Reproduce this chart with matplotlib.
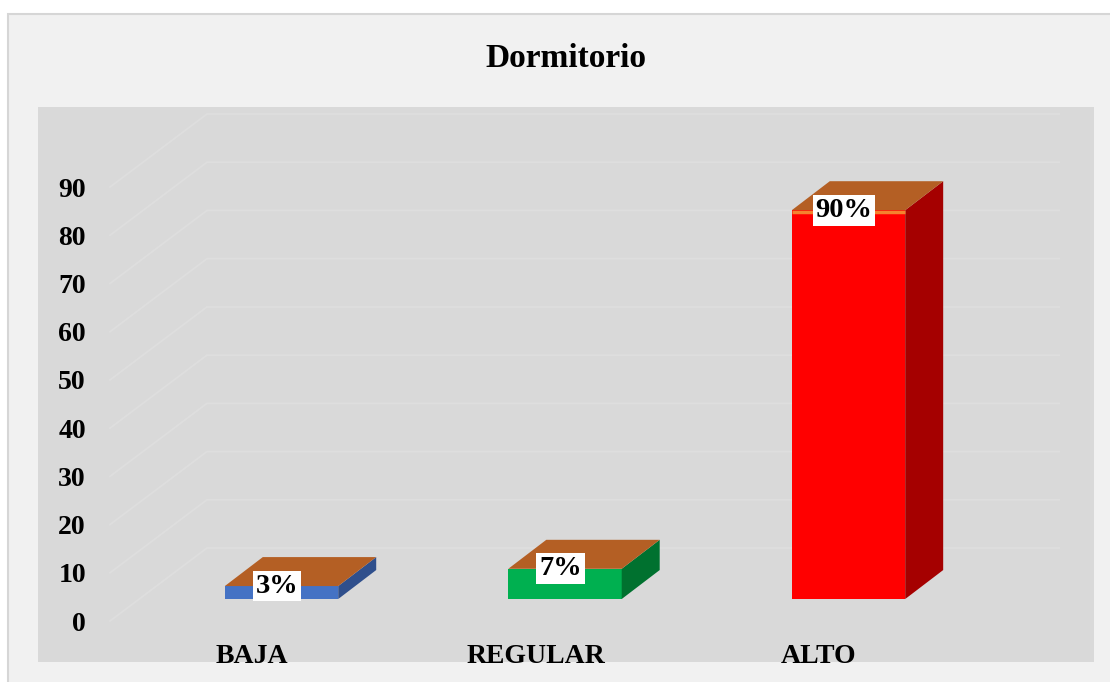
import matplotlib
matplotlib.use("Agg")
import matplotlib.pyplot as plt
from matplotlib.patches import Polygon, Rectangle
import numpy as np

# ---------------- data ----------------
title = "Dormitorio"
categories = ["BAJA", "REGULAR", "ALTO"]
values = [3, 7, 90]
label_texts = ["3%", "7%", "90%"]
y_ticks = [0, 10, 20, 30, 40, 50, 60, 70, 80, 90]

# ---------------- style ----------------
front_colors = ["#4472C4", "#00B050", "#FF0000"]
side_colors = ["#2F4F8C", "#00712F", "#A50000"]
top_color = "#B45F24"
edge_highlight = [None, None, "#F5822E"]
grid_color = "#DEDEDE"
plot_bg = "#D9D9D9"
chart_bg = "#F1F1F1"

plt.rcParams['font.family'] = ['Liberation Serif', 'DejaVu Serif']
plt.rcParams['font.weight'] = 'bold'

W, H = 1110, 682
fig = plt.figure(figsize=(W / 100, H / 100), dpi=100, facecolor="white")

# chart frame
fig.add_artist(Rectangle((8 / W, -0.02), 1.1, 1 - 14 / H + 0.02,
                         transform=fig.transFigure, facecolor=chart_bg,
                         edgecolor="#D6D6D6", lw=1.5, zorder=0))

ax = fig.add_axes([38 / W, (H - 662) / H, (1094 - 38) / W, (662 - 107) / H])
ax.set_facecolor(plot_bg)
ax.set_xlim(-0.859, 2.866)
ax.set_ylim(-8.50, 106.6)
for s in ax.spines.values():
    s.set_visible(False)

# perspective gridlines (side wall + back wall)
GX_FRONT, GX_WALL, GX_END = -0.605, -0.263, 2.743
G_DEPTH = 15.14
for v in y_ticks:
    ax.plot([GX_FRONT, GX_WALL, GX_END], [v, v + G_DEPTH, v + G_DEPTH],
            color=grid_color, lw=1.3, zorder=1, solid_joinstyle='miter')

# 3D-looking bars
BAR_W = 0.4
DX, DY = 0.134, 6.01
BASE = 4.56
PERSP = 0.896
for i, v in enumerate(values):
    x0, x1 = i - BAR_W / 2, i + BAR_W / 2
    top = BASE + v * PERSP
    ax.add_patch(Polygon([(x0, BASE), (x1, BASE), (x1, top), (x0, top)],
                         closed=True, facecolor=front_colors[i], edgecolor='none', zorder=3))
    ax.add_patch(Polygon([(x1, BASE), (x1 + DX, BASE + DY), (x1 + DX, top + DY), (x1, top)],
                         closed=True, facecolor=side_colors[i], edgecolor='none', zorder=3))
    ax.add_patch(Polygon([(x0, top), (x1, top), (x1 + DX, top + DY), (x0 + DX, top + DY)],
                         closed=True, facecolor=top_color, edgecolor='none', zorder=3))
    if edge_highlight[i]:
        ax.plot([x0, x1], [top - 0.3, top - 0.3], color=edge_highlight[i], lw=2.5,
                zorder=4, solid_capstyle='butt')
    ax.text(i - 0.016, top, label_texts[i], ha='center', va='center', fontsize=20.5,
            fontweight='bold', color='black', zorder=5,
            bbox=dict(boxstyle='square,pad=0.1', facecolor='white', edgecolor='none'))

# axis labels
ax.set_yticks(y_ticks)
ax.set_yticklabels([str(t) for t in y_ticks])
ax.tick_params(axis='y', length=0, pad=-34.5, labelsize=20)
LABEL_SHIFT = -0.104
ax.set_xticks(np.arange(len(categories)) + LABEL_SHIFT)
ax.set_xticklabels(categories)
ax.tick_params(axis='x', length=0, pad=-13, labelsize=20)
for lab in ax.get_xticklabels() + ax.get_yticklabels():
    lab.set_fontweight('bold')

fig.text(566 / W, 1 - 67 / H, title, ha='center', va='baseline',
         fontsize=24, fontweight='bold')

fig.savefig("out.png", dpi=100, facecolor=fig.get_facecolor())
